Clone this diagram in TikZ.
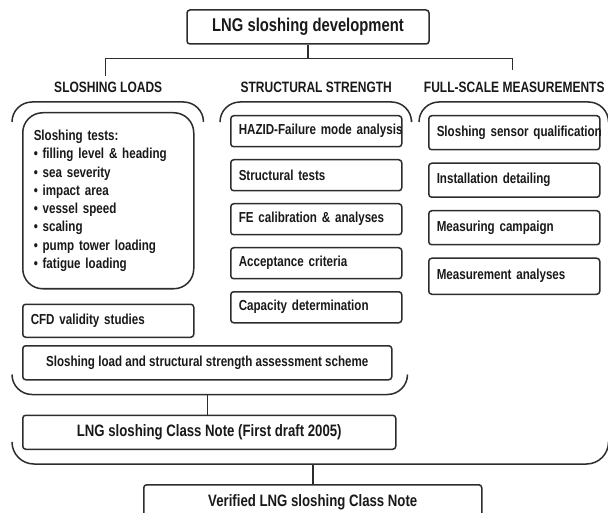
\documentclass[tikz,border=0pt]{standalone}
\usepackage{fontspec}
\setmainfont{Liberation Sans}[FakeStretch=0.8]
\definecolor{linegray}{RGB}{45,45,45}
\definecolor{inkgray}{RGB}{25,25,25}
\usetikzlibrary{positioning, calc}

\begin{document}
\begin{tikzpicture}[
  x=1pt, y=-1pt,
  node distance=11.5pt and 10pt,
  box/.style={rectangle, rounded corners=3pt, draw=linegray, line width=1.5pt, fill=white,
              text=inkgray, inner sep=0pt, font=\fontsize{14.5}{18.3}\selectfont\bfseries},
  sbox/.style={box, minimum width=171pt, minimum height=31pt, text width=155pt,
               inner xsep=8pt, align=left},
  mbox/.style={box, minimum width=171pt, minimum height=34pt, text width=155pt,
               inner xsep=8pt, align=left},
  wide/.style={box, minimum height=34pt, align=center},
  head/.style={inner sep=0pt, text=inkgray, font=\fontsize{15}{17}\selectfont\bfseries},
  brk/.style={draw=linegray, line width=1.5pt, rounded corners=20pt},
  con/.style={draw=linegray, line width=1.5pt}
]
\clip (0,0) rectangle (608,513);
\useasboundingbox (0,0) rectangle (608,513);

% ---- Top ----
\node[wide, minimum width=242pt, font=\fontsize{18.5}{22}\selectfont\bfseries] (title) at (308,27) {LNG sloshing development};

% ---- Column A: sloshing loads ----
\node[box, anchor=north west, minimum width=171pt, minimum height=176pt, rounded corners=20pt,
      text width=149pt, inner xsep=11pt, align=left] (tests) at (22,112)
  {Sloshing tests:\\
   • filling level \& heading\\
   • sea severity\\
   • impact area\\
   • vessel speed\\
   • scaling\\
   • pump tower loading\\
   • fatigue loading};
\node[sbox, minimum height=33pt, below=14pt of tests] (cfd) {CFD validity studies};
\node[wide, minimum width=369pt, below right=7pt and 0pt of cfd.south west] (scheme) {Sloshing load and structural strength assessment scheme};
\node[wide, minimum width=373pt, font=\fontsize{16.5}{20}\selectfont\bfseries,
      below right=34pt and 0pt of scheme.south west] (classnote) {LNG sloshing Class Note (First draft 2005)};
\node[head, above=19pt of tests] (loadshead) {SLOSHING LOADS};

% ---- Column B: structural strength ----
\node[sbox, anchor=north west] (hazid) at (230,115) {\mbox{HAZID-Failure mode analysis}};
\node[sbox, below=of hazid] (sttests) {Structural tests};
\node[sbox, below=of sttests] (fecal) {FE calibration \& analyses};
\node[sbox, below=of fecal] (accept) {Acceptance criteria};
\node[sbox, below=of accept] (capacity) {Capacity determination};
\node[head, above=22pt of hazid] (strhead) {STRUCTURAL STRENGTH};

% ---- Column C: full-scale measurements ----
\node[mbox, anchor=north west] (sensor) at (428,115) {\mbox{Sloshing sensor qualification}};
\node[mbox, below=12pt of sensor] (install) {Installation detailing};
\node[mbox, below=12pt of install] (campaign) {Measuring campaign};
\node[mbox, below=12pt of campaign, minimum height=36pt] (measan) {Measurement analyses};
\node[head, above=22pt of sensor] (meashead) {FULL-SCALE MEASUREMENTS};

% ---- Bottom ----
\node[wide, minimum width=338pt, minimum height=36pt, font=\fontsize{16.5}{20}\selectfont\bfseries,
      anchor=north west] (verified) at (143,484) {Verified LNG sloshing Class Note};

% ---- brackets ----
\draw[brk] ([xshift=-10pt,yshift=-10pt]tests.north west) |- ([yshift=10pt]tests.north) -| ([xshift=9pt,yshift=-10pt]tests.north east);
\draw[brk] ([xshift=-10pt,yshift=-5pt]hazid.north west) |- ([yshift=13pt]hazid.north) -| ([xshift=9pt,yshift=-5pt]hazid.north east);
\draw[brk] ([xshift=-9pt,yshift=-7pt]sensor.north west) |- ([yshift=13pt]sensor.north) -| ([xshift=8pt,yshift=-7pt]sensor.north east);
\draw[brk] ([xshift=-10pt,yshift=6pt]scheme.south west) |- ([yshift=-14pt]scheme.south) coordinate (schemebrk) -| ([xshift=15pt,yshift=6pt]scheme.south east);
\draw[brk, rounded corners=22pt] ([xshift=-10pt,yshift=7pt]classnote.south west) |- ([yshift=20pt]verified.north) coordinate (bigbrk) -| ([xshift=8pt,yshift=1pt]measan.east |- classnote.south);

% ---- connectors ----
\draw[con] (title.south) -- ++(0,14) coordinate (bar);
\draw[con] ([xshift=-3pt,yshift=6pt]loadshead.north) |- (bar) -| ([xshift=-2pt,yshift=12pt]meashead.north);
\draw[con] (schemebrk) -- (schemebrk |- classnote.north);
\draw[con] (bigbrk) -- (bigbrk |- verified.north);

\end{tikzpicture}
\end{document}
